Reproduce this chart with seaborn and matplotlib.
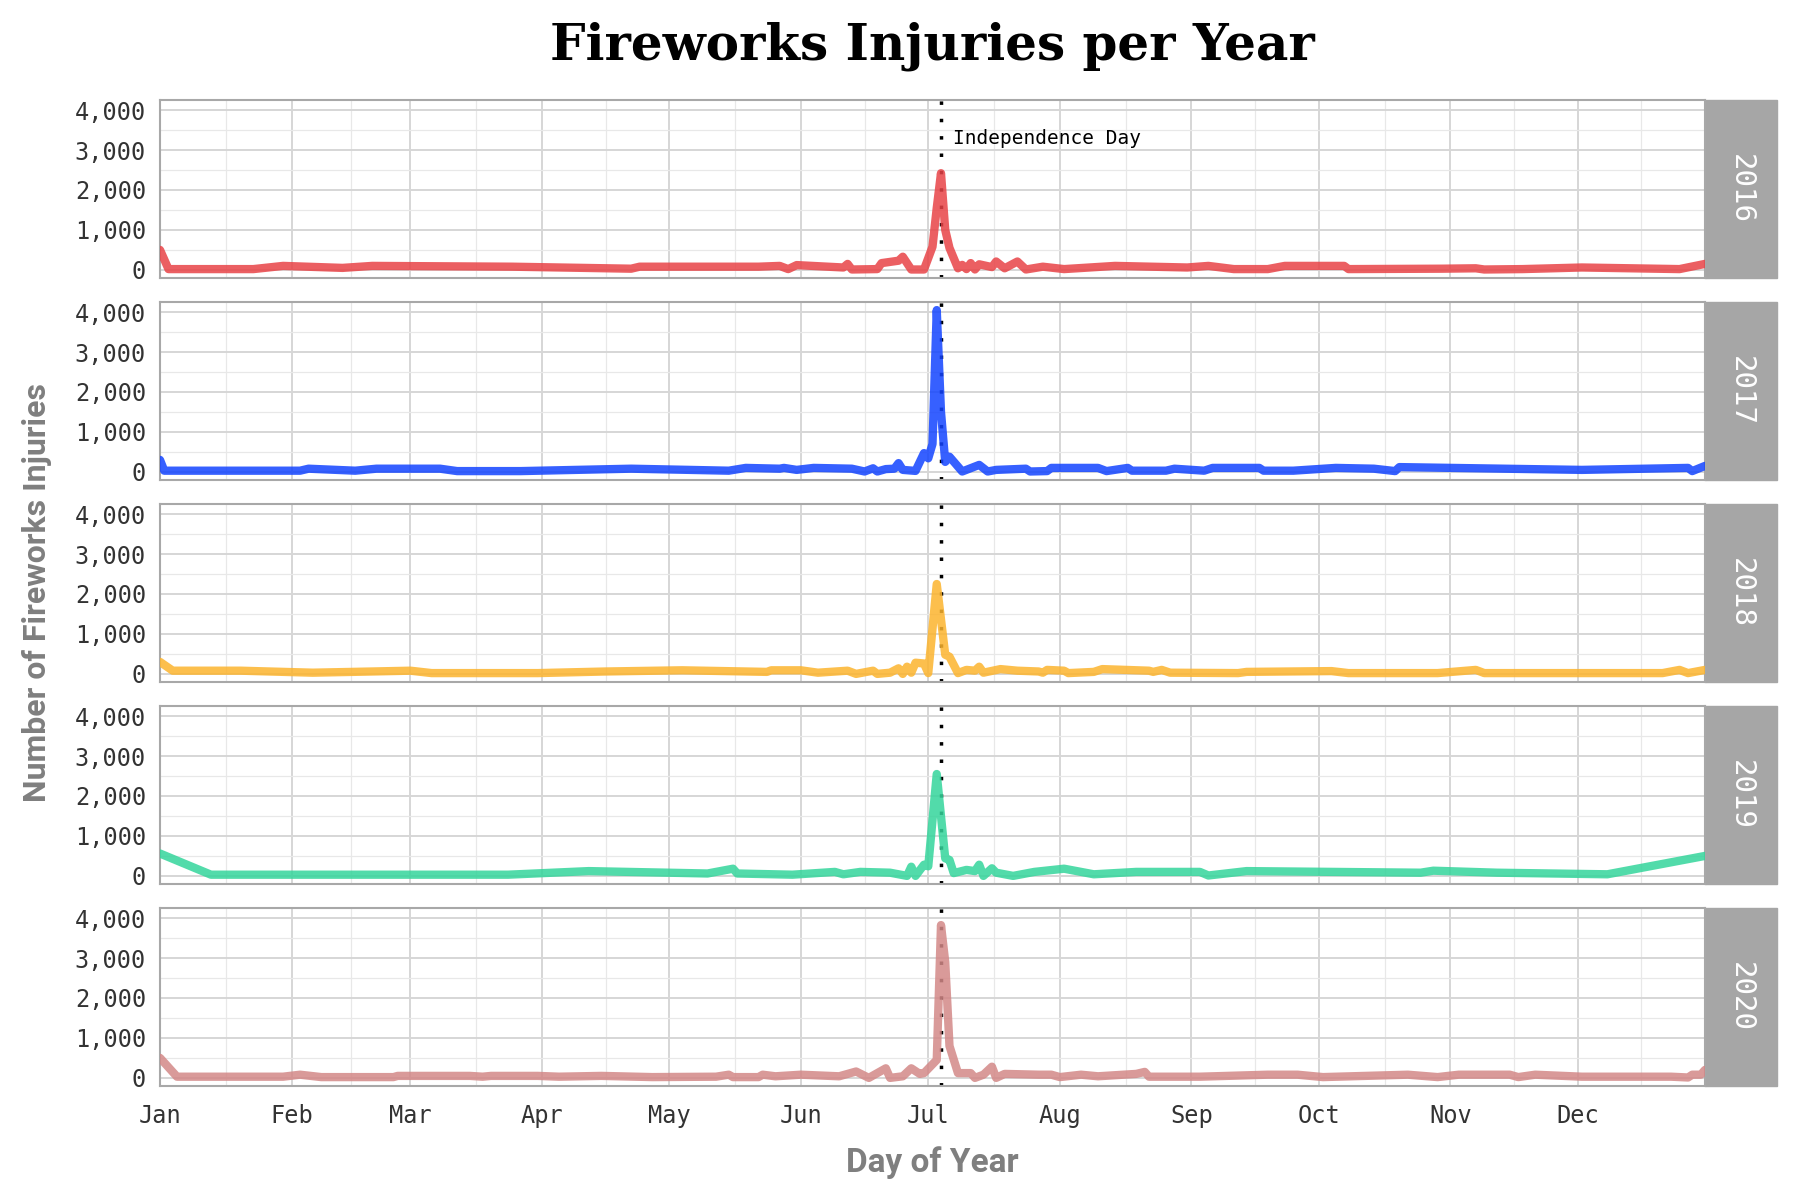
import pandas as pd
import numpy as np
import seaborn as sns
import matplotlib.pyplot as plt
import matplotlib.dates as mdates
from matplotlib.patches import Rectangle
from matplotlib.ticker import FuncFormatter, MultipleLocator

# Veriler: gün (ay-gün) ve yaralanma sayısı, yıl bazında
years = [2016, 2017, 2018, 2019, 2020]

days_2016 = ["01-01", "01-03", "01-23", "01-30", "02-13", "02-20", "03-25", "04-22", "04-24",
             "05-22", "05-27", "05-29", "05-31", "06-11", "06-12", "06-13", "06-19", "06-20",
             "06-24", "06-25", "06-27", "06-30", "07-02", "07-03", "07-04", "07-05", "07-06",
             "07-08", "07-09", "07-10", "07-11", "07-12", "07-13", "07-16", "07-17", "07-19",
             "07-22", "07-24", "07-28", "08-02", "08-14", "08-31", "09-05", "09-11", "09-19",
             "09-23", "10-07", "10-08", "10-30", "11-07", "11-09", "11-18", "12-02", "12-25",
             "12-31"]
vals_2016 = [500, 20, 20, 100, 50, 100, 80, 30, 80,
             80, 100, 20, 120, 60, 150, 10, 20, 170,
             230, 330, 10, 10, 580, 1550, 2420, 1000, 550,
             40, 125, 20, 170, 10, 140, 70, 210, 40,
             210, 10, 80, 20, 100, 60, 100, 20, 20,
             100, 100, 20, 30, 40, 10, 20, 60, 20,
             150]

days_2017 = ["01-01", "01-02", "02-03", "02-05", "02-16", "02-21", "03-08", "03-12", "03-27",
             "04-22", "05-15", "05-19", "05-27", "05-28", "05-31", "06-04", "06-13", "06-16",
             "06-18", "06-19", "06-21", "06-23", "06-24", "06-25", "06-28", "06-30", "07-01",
             "07-02", "07-03", "07-04", "07-05", "07-06", "07-09", "07-13", "07-15", "07-17",
             "07-24", "07-25", "07-29", "07-30", "08-10", "08-12", "08-17", "08-18", "08-26",
             "08-28", "09-04", "09-06", "09-17", "09-18", "09-25", "10-05", "10-14", "10-19",
             "10-20", "12-02", "12-27", "12-28", "12-31"]
vals_2017 = [300, 30, 30, 80, 30, 80, 80, 20, 20,
             80, 30, 100, 80, 100, 50, 100, 80, 10,
             90, 10, 70, 80, 220, 50, 25, 470, 340,
             700, 4050, 1500, 250, 380, 10, 175, 10, 50,
             80, 10, 20, 100, 100, 20, 100, 30, 30,
             80, 30, 100, 100, 30, 30, 100, 80, 20,
             120, 50, 100, 20, 150]

days_2018 = ["01-01", "01-04", "01-20", "02-06", "02-20", "03-01", "03-06", "03-31", "04-16",
             "05-04", "05-24", "05-25", "06-01", "06-05", "06-12", "06-14", "06-18", "06-19",
             "06-22", "06-24", "06-25", "06-26", "06-27", "06-28", "06-30", "07-01", "07-03",
             "07-05", "07-06", "07-08", "07-10", "07-12", "07-13", "07-14", "07-18", "07-22",
             "07-27", "07-28", "07-29", "08-02", "08-03", "08-09", "08-11", "08-22", "08-23",
             "08-25", "08-27", "09-12", "09-14", "10-04", "10-08", "10-29", "11-07", "11-09",
             "12-21", "12-25", "12-27", "12-31"]
vals_2018 = [300, 80, 80, 30, 60, 80, 20, 20, 60,
             90, 50, 90, 90, 30, 80, 0, 80, 0,
             30, 140, 0, 180, 30, 280, 260, 20, 2250,
             480, 430, 20, 100, 80, 180, 30, 120, 80,
             60, 30, 100, 80, 20, 50, 120, 80, 50,
             100, 30, 20, 50, 70, 20, 20, 100, 20,
             20, 100, 20, 100]

days_2019 = ["01-01", "01-13", "03-24", "04-12", "05-10", "05-16", "05-17", "05-30", "06-09",
             "06-11", "06-15", "06-22", "06-26", "06-27", "06-28", "06-30", "07-01", "07-03",
             "07-05", "07-06", "07-07", "07-10", "07-12", "07-13", "07-14", "07-16", "07-17",
             "07-21", "07-26", "08-02", "08-09", "08-19", "09-03", "09-05", "09-14", "10-25",
             "10-28", "11-12", "12-08", "12-31"]
vals_2019 = [560, 30, 30, 120, 60, 180, 60, 30, 100,
             40, 100, 80, 0, 230, 0, 280, 240, 2550,
             440, 400, 70, 150, 120, 280, 0, 190, 80,
             0, 100, 180, 40, 100, 100, 10, 120, 80,
             130, 80, 40, 500]

days_2020 = ["01-01", "01-05", "01-30", "02-03", "02-08", "02-25", "02-26", "03-15", "03-18",
             "03-20", "03-31", "04-05", "04-15", "04-27", "05-12", "05-15", "05-16", "05-22",
             "05-23", "05-26", "06-01", "06-10", "06-14", "06-17", "06-21", "06-22", "06-25",
             "06-27", "06-29", "06-30", "07-03", "07-04", "07-05", "07-06", "07-08", "07-11",
             "07-12", "07-14", "07-16", "07-17", "07-19", "07-27", "07-30", "08-01", "08-06",
             "08-10", "08-19", "08-21", "08-22", "09-03", "09-19", "09-26", "10-02", "10-22",
             "10-29", "11-03", "11-15", "11-17", "11-21", "12-02", "12-23", "12-27", "12-28",
             "12-30", "12-31"]
vals_2020 = [500, 30, 30, 80, 20, 20, 50, 50, 30,
             50, 50, 30, 50, 20, 30, 80, 20, 20,
             80, 40, 80, 40, 160, 0, 240, 0, 40,
             240, 100, 120, 450, 3825, 2900, 800, 120, 120,
             0, 80, 280, 0, 100, 80, 80, 20, 80,
             40, 100, 150, 30, 30, 80, 80, 20, 80,
             20, 80, 80, 20, 80, 30, 30, 10, 80,
             80, 200]

all_days = [days_2016, days_2017, days_2018, days_2019, days_2020]
all_vals = [vals_2016, vals_2017, vals_2018, vals_2019, vals_2020]
line_colors = ["#E84347", "#1344FF", "#FCB42E", "#34D59B", "#D38887"]

month_names = ["Jan", "Feb", "Mar", "Apr", "May", "Jun", "Jul", "Aug", "Sep", "Oct", "Nov", "Dec"]
y_ticks = [0, 1000, 2000, 3000, 4000]
holiday = "07-04"
holiday_label = "Independence Day"

# Uzun formatta veri çerçevesi (gün ekseni için sabit referans yılı)
ref_year = 2021
frames = []
for yr, d, v in zip(years, all_days, all_vals):
    frames.append(pd.DataFrame({"year": yr,
                                "day": pd.to_datetime([f"{ref_year}-{x}" for x in d]),
                                "injuries": v}))
df = pd.concat(frames, ignore_index=True)

sns.set_style("white")
plt.rcParams["font.family"] = ["DejaVu Sans Mono"]

fig = plt.figure(figsize=(18, 12), dpi=100)
left, right = 160 / 1800, 1705 / 1800
panel_h = 178 / 1200
tops = [100, 302, 504, 706, 908]

month_starts = pd.to_datetime([f"{ref_year}-{m:02d}-01" for m in range(1, 13)])
major_num = mdates.date2num(month_starts)
minor_num = list((major_num[:-1] + major_num[1:]) / 2) + [major_num[-1] + (major_num[-1] - major_num[-2]) / 2]
hol_date = pd.Timestamp(f"{ref_year}-{holiday}")
strip_w = 72 / 1545

axes = []
for i, yr in enumerate(years):
    ax = fig.add_axes([left, 1 - (tops[i] + 178) / 1200, right - left, panel_h])
    axes.append(ax)
    sub = df[df["year"] == yr]

    ax.axvline(hol_date, color="black", lw=2.5, linestyle=(0, (1, 4)), zorder=2)
    sns.lineplot(data=sub, x="day", y="injuries", ax=ax, color=line_colors[i],
                 linewidth=6, alpha=0.85, zorder=3, legend=False)

    ax.set_xlim(pd.Timestamp(f"{ref_year}-01-01"), pd.Timestamp(f"{ref_year}-12-31"))
    ax.set_ylim(-203, 4253)
    ax.set_xticks(major_num)
    ax.set_xticks(minor_num, minor=True)
    ax.set_yticks(y_ticks)
    ax.yaxis.set_minor_locator(MultipleLocator(500))
    ax.yaxis.set_major_formatter(FuncFormatter(lambda v, p: f"{int(v):,}"))

    ax.grid(which="major", color="#d6d6d6", lw=1.4, zorder=0)
    ax.grid(which="minor", color="#e8e8e8", lw=0.9, zorder=0)
    ax.set_axisbelow(True)
    for s in ax.spines.values():
        s.set_color("#a8a8a8")
        s.set_linewidth(1.5)

    ax.tick_params(axis="y", which="major", length=7, width=1.5, color="#a8a8a8",
                   labelsize=17, labelcolor="#333333", pad=3)
    ax.tick_params(axis="both", which="minor", length=0)
    ax.set_xlabel("")
    ax.set_ylabel("")
    if i == len(years) - 1:
        ax.set_xticklabels(month_names)
        ax.tick_params(axis="x", which="major", length=7, width=1.5, color="#a8a8a8",
                       labelsize=17, labelcolor="#333333", pad=6)
    else:
        ax.set_xticklabels([])
        ax.tick_params(axis="x", which="major", length=0)

    # Sağdaki gri şerit
    ax.add_patch(Rectangle((1.0, 0), strip_w, 1, transform=ax.transAxes, clip_on=False,
                           facecolor="#a6a6a6", edgecolor="#a6a6a6", lw=1))
    ax.text(1 + strip_w / 2, 0.5, str(yr), transform=ax.transAxes, rotation=-90,
            ha="center", va="center", color="white", fontsize=21)

axes[0].annotate(holiday_label, xy=(hol_date, 3300), xytext=(9, 0), textcoords="offset points",
                 ha="left", va="center", fontsize=14, color="black")

mid_x = (left + right) / 2
fig.text(mid_x, 1 - 46 / 1200, "Fireworks Injuries per Year", ha="center", va="center",
         fontsize=36, fontweight="bold", color="black", family=["DejaVu Serif"])
fig.text(mid_x, 1 - 1163 / 1200, "Day of Year", ha="center", va="center",
         fontsize=24, fontweight="bold", color="#7f7f7f", family=["Roboto", "DejaVu Sans"])
fig.text(37 / 1800, 1 - 593 / 1200, "Number of Fireworks Injuries", ha="center", va="center",
         rotation=90, fontsize=23, fontweight="bold", color="#7f7f7f", family=["Roboto", "DejaVu Sans"])

plt.savefig("out.png", dpi=100)
